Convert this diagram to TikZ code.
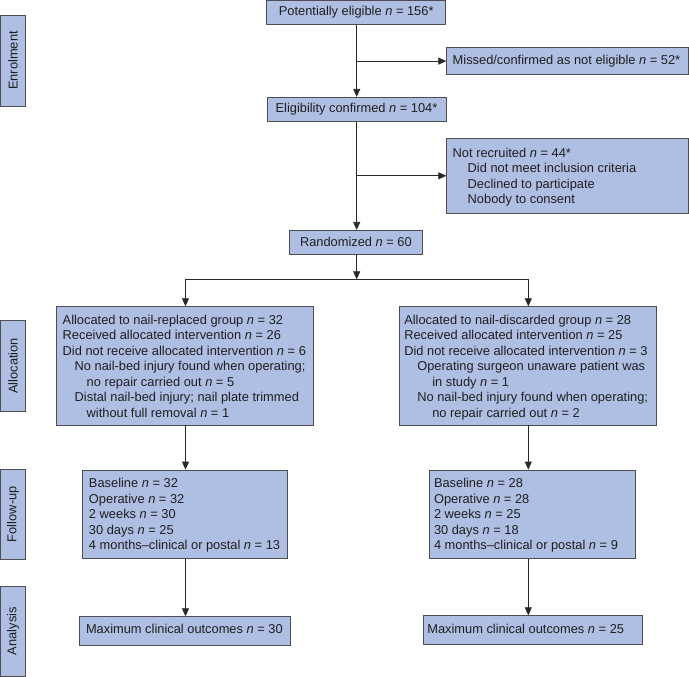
\documentclass[tikz,border=0pt]{standalone}
\usepackage{fontspec}
\setmainfont{Liberation Sans}
\usetikzlibrary{arrows.meta}
\definecolor{boxblue}{RGB}{175,191,228}
\definecolor{edgegray}{RGB}{78,78,82}
\definecolor{txt}{RGB}{30,30,30}
\definecolor{linecol}{RGB}{40,40,40}
\newcommand{\nvar}{\textit{n}}
% [#1] downward shift of the text, #2 box width, #3 left padding, #4 lines (left aligned, never broken)
\newcommand{\leftlines}[4][0pt]{\makebox[#2][l]{\hspace*{#3}\raisebox{-#1}[\height][\depth]{\begin{tabular}{@{}l@{}}#4\end{tabular}}}}
\begin{document}
\begin{tikzpicture}[x=1pt,y=-1pt,
  box/.style={draw=edgegray, fill=boxblue, line width=0.8pt, inner xsep=0pt, inner ysep=0pt,
              text=txt, font=\fontsize{12.85}{15.5}\selectfont, anchor=center},
  cbox/.style={box, align=center},
  lbox/.style={box},
  side/.style={draw=edgegray, fill=boxblue, line width=0.8pt, inner sep=0pt, text=txt,
               font=\fontsize{12.85}{15.5}\selectfont, rotate=90, anchor=center},
  flow/.style={draw=linecol, line width=0.8pt, -{Triangle[width=7pt,length=8pt]}},
  plain/.style={draw=linecol, line width=0.8pt}]
\useasboundingbox (0,0) rectangle (689,677);

% stage labels
\node[side, minimum width=91pt, minimum height=25.4pt] (enrol) at (13.1,60.5) {Enrolment};
\node[side, minimum width=91.7pt, minimum height=25.4pt] (allocation) at (13.1,365.85) {Allocation};
\node[side, minimum width=90.3pt, minimum height=25.4pt] (followup) at (13.1,514.15) {Follow-up};
\node[side, minimum width=90.6pt, minimum height=25.4pt] (analysis) at (13.1,631.2) {Analysis};

% enrolment
\node[cbox, minimum width=179pt, minimum height=24pt] (pot) at (356.2,12.4)
  {Potentially eligible \nvar{} = 156*};
\node[lbox, minimum height=27.6pt] (missed) at (567.6,61.1)
  {\leftlines{241.8pt}{6pt}{Missed/confirmed as not eligible \nvar{} = 52*}};
\node[cbox, minimum width=179pt, minimum height=24.4pt] (elig) at (356.5,109.5)
  {Eligibility confirmed \nvar{} = 104*};
\node[lbox, minimum height=75pt] (notrec) at (567.5,175.8)
  {\leftlines[1.8pt]{241.6pt}{6pt}{Not recruited \nvar{} = 44*\\
   \hspace*{15pt}Did not meet inclusion criteria\\
   \hspace*{15pt}Declined to participate\\
   \hspace*{15pt}Nobody to consent}};
\node[cbox, minimum width=132.8pt, minimum height=24pt] (rand) at (355.9,242.3)
  {Randomized \nvar{} = 60};

% allocation
\node[lbox, minimum height=118.3pt] (allocL) at (185,365.85)
  {\leftlines[1.8pt]{256.6pt}{6pt}{Allocated to nail-replaced group \nvar{} = 32\\
   Received allocated intervention \nvar{} = 26\\
   Did not receive allocated intervention \nvar{} = 6\\
   \hspace*{12pt}No nail-bed injury found when operating;\\
   \hspace*{24pt}no repair carried out \nvar{} = 5\\
   \hspace*{12pt}Distal nail-bed injury; nail plate trimmed\\
   \hspace*{24pt}without full removal \nvar{} = 1}};
\node[lbox, minimum height=118.3pt] (allocR) at (527.65,365.85)
  {\leftlines[1.8pt]{256.7pt}{5pt}{Allocated to nail-discarded group \nvar{} = 28\\
   Received allocated intervention \nvar{} = 25\\
   Did not receive allocated intervention \nvar{} = 3\\
   \hspace*{13pt}Operating surgeon unaware patient was\\
   \hspace*{28pt}in study \nvar{} = 1\\
   \hspace*{13pt}No nail-bed injury found when operating;\\
   \hspace*{28pt}no repair carried out \nvar{} = 2}};

% follow-up
\node[lbox, minimum height=88.3pt] (followL) at (185.2,514.15)
  {\leftlines[1.5pt]{205pt}{6.3pt}{Baseline \nvar{} = 32\\
   Operative \nvar{} = 32\\
   2 weeks \nvar{} = 30\\
   30 days \nvar{} = 25\\
   4 months--clinical or postal \nvar{} = 13}};
\node[lbox, minimum height=88.3pt] (followR) at (532.5,514.15)
  {\leftlines[1.5pt]{206.4pt}{4.7pt}{Baseline \nvar{} = 28\\
   Operative \nvar{} = 28\\
   2 weeks \nvar{} = 25\\
   30 days \nvar{} = 18\\
   4 months--clinical or postal \nvar{} = 9}};

% analysis
\node[lbox, minimum height=28.3pt] (maxL) at (184.65,630.85)
  {\leftlines{210.7pt}{6.7pt}{Maximum clinical outcomes \nvar{} = 30}};
\node[lbox, minimum height=28.6pt] (maxR) at (532.8,630)
  {\leftlines{219pt}{4pt}{Maximum clinical outcomes \nvar{} = 25}};

% connectors
\coordinate (colM) at (356.7,0);
\coordinate (colL) at (185.5,0);
\coordinate (colR) at (528.3,0);
\coordinate (split) at (356.7,279.3);

\draw[flow] (colM |- pot.south) -- (colM |- elig.north);
\draw[flow] (colM |- missed.west) -- (missed.west);
\draw[flow] (colM |- elig.south) -- (colM |- rand.north);
\draw[flow] (colM |- notrec.west) -- (notrec.west);
\draw[flow] (colM |- rand.south) -- (split);
\draw[plain] (colL |- split) -- (colR |- split);
\draw[flow] (colL |- split) -- (colL |- allocL.north);
\draw[flow] (colR |- split) -- (colR |- allocR.north);
\draw[flow] (colL |- allocL.south) -- (colL |- followL.north);
\draw[flow] (colR |- allocR.south) -- (colR |- followR.north);
\draw[flow] (colL |- followL.south) -- (colL |- maxL.north);
\draw[flow] (colR |- followR.south) -- (colR |- maxR.north);
\end{tikzpicture}
\end{document}
